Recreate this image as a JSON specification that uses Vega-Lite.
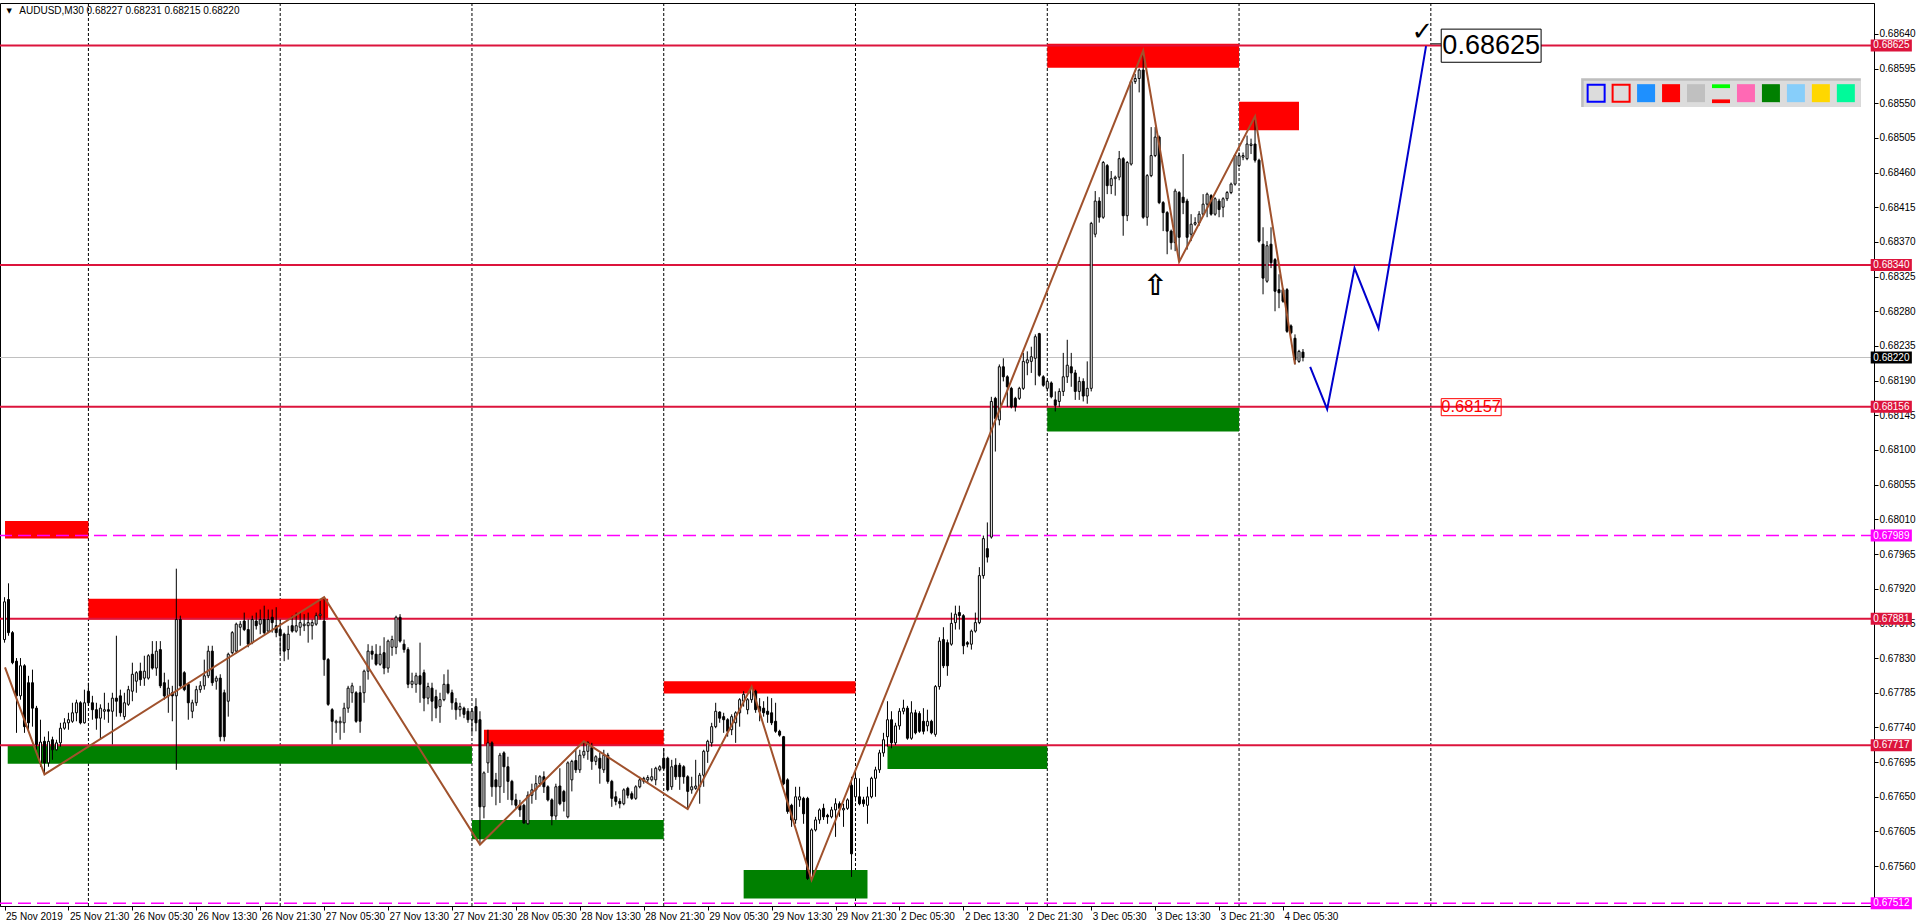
{
"$schema":"https://vega.github.io/schema/vega-lite/v6.json",
"width":1874,"height":903,
"autosize":{"type":"none"},
"padding":{"left":0,"top":3,"right":46,"bottom":18},
"background":"#ffffff",
"config":{"view":{"stroke":"#000000","strokeWidth":1},"font":"Liberation Sans",
 "axis":{"labelFont":"Liberation Sans","labelFontSize":10,"labelColor":"#000000","tickColor":"#000000","domainColor":"#000000","grid":false,"labelOverlap":false,"labelBound":false,"labelFlush":false}},
"resolve":{"scale":{"color":"independent"}},
"datasets":{
"days":[{"i":21},{"i":69},{"i":117},{"i":165},{"i":213},{"i":261},{"i":309},{"i":357}],
"zones":[
{"i0":0.125,"i1":21,"lo":0.67985,"hi":0.68008,"zone":"supply"},
{"i0":21,"i1":81,"lo":0.67880,"hi":0.67907,"zone":"supply"},
{"i0":0.8,"i1":117,"lo":0.67693,"hi":0.67716,"zone":"demand"},
{"i0":120,"i1":165,"lo":0.67716,"hi":0.67737,"zone":"supply"},
{"i0":117,"i1":165,"lo":0.67595,"hi":0.67620,"zone":"demand"},
{"i0":165,"i1":213,"lo":0.67784,"hi":0.67800,"zone":"supply"},
{"i0":185,"i1":216,"lo":0.67518,"hi":0.67555,"zone":"demand"},
{"i0":221,"i1":261,"lo":0.67686,"hi":0.67717,"zone":"demand"},
{"i0":261,"i1":309,"lo":0.68124,"hi":0.68155,"zone":"demand"},
{"i0":261,"i1":309,"lo":0.68596,"hi":0.68627,"zone":"supply"},
{"i0":309,"i1":324,"lo":0.68515,"hi":0.68552,"zone":"supply"}],
"levels":[
{"p":0.68625,"kind":"level"},{"p":0.68340,"kind":"level"},{"p":0.68220,"kind":"bid"},{"p":0.68156,"kind":"level"},
{"p":0.67989,"kind":"pivot"},{"p":0.67881,"kind":"level"},{"p":0.67717,"kind":"level"},{"p":0.67512,"kind":"pivot"}],
"zigzag":[{"i":0.125,"p":0.67818},{"i":10,"p":0.67679},{"i":80,"p":0.67909},{"i":119,"p":0.67588},{"i":145,"p":0.67722},{"i":171,"p":0.67634},{"i":187,"p":0.67793},{"i":202,"p":0.67542},{"i":285,"p":0.68618},{"i":294,"p":0.68344},{"i":313,"p":0.68533},{"i":323,"p":0.68211}],
"projection":[{"i":326.8,"p":0.68208},{"i":331.05,"p":0.68153},{"i":337.9,"p":0.68336},{"i":343.9,"p":0.68258},{"i":355.8,"p":0.68624}],
"swatches":[{"i":410.875,"sw":"dodgerblue"},{"i":417.125,"sw":"red"},{"i":423.375,"sw":"silver"},{"i":435.875,"sw":"hotpink"},{"i":442.125,"sw":"green"},{"i":448.375,"sw":"lightskyblue"},{"i":454.625,"sw":"gold"},{"i":460.875,"sw":"springgreen"}],
"frames":[{"i":398.375,"sw":"blue"},{"i":404.625,"sw":"red"}],
"bars2":[{"i0":427.375,"i1":431.875,"lo":0.685696,"hi":0.685745,"sw":"lime"},{"i0":427.375,"i1":431.875,"lo":0.685501,"hi":0.685549,"sw":"red"}],
"candles":[
{"i":0,"o":0.67854,"h":0.67909,"l":0.67850,"c":0.67903},
{"i":1,"o":0.67906,"h":0.67927,"l":0.67859,"c":0.67863},
{"i":2,"o":0.67863,"h":0.67865,"l":0.67822,"c":0.67824},
{"i":3,"o":0.67826,"h":0.67830,"l":0.67733,"c":0.67781},
{"i":4,"o":0.67781,"h":0.67830,"l":0.67776,"c":0.67820},
{"i":5,"o":0.67820,"h":0.67822,"l":0.67733,"c":0.67741},
{"i":6,"o":0.67798,"h":0.67807,"l":0.67737,"c":0.67746},
{"i":7,"o":0.67798,"h":0.67815,"l":0.67741,"c":0.67765},
{"i":8,"o":0.67765,"h":0.67768,"l":0.67711,"c":0.67718},
{"i":9,"o":0.67694,"h":0.67750,"l":0.67689,"c":0.67721},
{"i":10,"o":0.67722,"h":0.67728,"l":0.67679,"c":0.67694},
{"i":11,"o":0.67694,"h":0.67735,"l":0.67689,"c":0.67722},
{"i":12,"o":0.67724,"h":0.67728,"l":0.67698,"c":0.67711},
{"i":13,"o":0.67711,"h":0.67724,"l":0.67710,"c":0.67720},
{"i":14,"o":0.67720,"h":0.67746,"l":0.67715,"c":0.67739},
{"i":15,"o":0.67739,"h":0.67752,"l":0.67737,"c":0.67746},
{"i":16,"o":0.67746,"h":0.67759,"l":0.67737,"c":0.67750},
{"i":17,"o":0.67748,"h":0.67772,"l":0.67746,"c":0.67759},
{"i":18,"o":0.67759,"h":0.67776,"l":0.67748,"c":0.67772},
{"i":19,"o":0.67772,"h":0.67774,"l":0.67744,"c":0.67746},
{"i":20,"o":0.67746,"h":0.67789,"l":0.67745,"c":0.67772},
{"i":21,"o":0.67787,"h":0.67798,"l":0.67768,"c":0.67772},
{"i":22,"o":0.67772,"h":0.67781,"l":0.67750,"c":0.67763},
{"i":23,"o":0.67763,"h":0.67772,"l":0.67737,"c":0.67752},
{"i":24,"o":0.67752,"h":0.67770,"l":0.67724,"c":0.67765},
{"i":25,"o":0.67761,"h":0.67785,"l":0.67750,"c":0.67763},
{"i":26,"o":0.67763,"h":0.67772,"l":0.67746,"c":0.67761},
{"i":27,"o":0.67761,"h":0.67785,"l":0.67718,"c":0.67778},
{"i":28,"o":0.67778,"h":0.67859,"l":0.67754,"c":0.67774},
{"i":29,"o":0.67781,"h":0.67789,"l":0.67754,"c":0.67759},
{"i":30,"o":0.67754,"h":0.67785,"l":0.67750,"c":0.67772},
{"i":31,"o":0.67770,"h":0.67794,"l":0.67768,"c":0.67789},
{"i":32,"o":0.67787,"h":0.67824,"l":0.67774,"c":0.67809},
{"i":33,"o":0.67800,"h":0.67813,"l":0.67785,"c":0.67811},
{"i":34,"o":0.67813,"h":0.67824,"l":0.67794,"c":0.67802},
{"i":35,"o":0.67804,"h":0.67833,"l":0.67794,"c":0.67813},
{"i":36,"o":0.67804,"h":0.67835,"l":0.67802,"c":0.67833},
{"i":37,"o":0.67835,"h":0.67852,"l":0.67815,"c":0.67817},
{"i":38,"o":0.67817,"h":0.67852,"l":0.67807,"c":0.67839},
{"i":39,"o":0.67841,"h":0.67852,"l":0.67791,"c":0.67794},
{"i":40,"o":0.67798,"h":0.67811,"l":0.67776,"c":0.67781},
{"i":41,"o":0.67781,"h":0.67802,"l":0.67759,"c":0.67791},
{"i":42,"o":0.67785,"h":0.67794,"l":0.67748,"c":0.67781},
{"i":43,"o":0.67781,"h":0.67946,"l":0.67685,"c":0.67880},
{"i":44,"o":0.67880,"h":0.67885,"l":0.67791,"c":0.67794},
{"i":45,"o":0.67811,"h":0.67813,"l":0.67787,"c":0.67789},
{"i":46,"o":0.67796,"h":0.67798,"l":0.67750,"c":0.67772},
{"i":47,"o":0.67761,"h":0.67776,"l":0.67752,"c":0.67772},
{"i":48,"o":0.67772,"h":0.67794,"l":0.67768,"c":0.67789},
{"i":49,"o":0.67789,"h":0.67800,"l":0.67785,"c":0.67794},
{"i":50,"o":0.67794,"h":0.67828,"l":0.67789,"c":0.67807},
{"i":51,"o":0.67807,"h":0.67846,"l":0.67804,"c":0.67839},
{"i":52,"o":0.67839,"h":0.67846,"l":0.67794,"c":0.67798},
{"i":53,"o":0.67800,"h":0.67807,"l":0.67789,"c":0.67804},
{"i":54,"o":0.67804,"h":0.67809,"l":0.67722,"c":0.67728},
{"i":55,"o":0.67785,"h":0.67789,"l":0.67722,"c":0.67728},
{"i":56,"o":0.67774,"h":0.67837,"l":0.67754,"c":0.67835},
{"i":57,"o":0.67837,"h":0.67865,"l":0.67835,"c":0.67863},
{"i":58,"o":0.67839,"h":0.67876,"l":0.67837,"c":0.67874},
{"i":59,"o":0.67870,"h":0.67878,"l":0.67846,"c":0.67874},
{"i":60,"o":0.67878,"h":0.67889,"l":0.67865,"c":0.67867},
{"i":61,"o":0.67867,"h":0.67880,"l":0.67844,"c":0.67848},
{"i":62,"o":0.67850,"h":0.67885,"l":0.67848,"c":0.67880},
{"i":63,"o":0.67878,"h":0.67889,"l":0.67867,"c":0.67872},
{"i":64,"o":0.67874,"h":0.67893,"l":0.67861,"c":0.67880},
{"i":65,"o":0.67880,"h":0.67898,"l":0.67861,"c":0.67863},
{"i":66,"o":0.67865,"h":0.67893,"l":0.67863,"c":0.67880},
{"i":67,"o":0.67883,"h":0.67893,"l":0.67863,"c":0.67876},
{"i":68,"o":0.67872,"h":0.67896,"l":0.67857,"c":0.67863},
{"i":69,"o":0.67867,"h":0.67880,"l":0.67835,"c":0.67859},
{"i":70,"o":0.67861,"h":0.67863,"l":0.67826,"c":0.67839},
{"i":71,"o":0.67841,"h":0.67872,"l":0.67828,"c":0.67861},
{"i":72,"o":0.67872,"h":0.67885,"l":0.67863,"c":0.67865},
{"i":73,"o":0.67865,"h":0.67889,"l":0.67863,"c":0.67872},
{"i":74,"o":0.67870,"h":0.67889,"l":0.67859,"c":0.67876},
{"i":75,"o":0.67872,"h":0.67887,"l":0.67865,"c":0.67874},
{"i":76,"o":0.67872,"h":0.67889,"l":0.67850,"c":0.67876},
{"i":77,"o":0.67872,"h":0.67880,"l":0.67854,"c":0.67876},
{"i":78,"o":0.67874,"h":0.67889,"l":0.67872,"c":0.67885},
{"i":79,"o":0.67885,"h":0.67904,"l":0.67880,"c":0.67887},
{"i":80,"o":0.67878,"h":0.67909,"l":0.67807,"c":0.67828},
{"i":81,"o":0.67828,"h":0.67830,"l":0.67768,"c":0.67770},
{"i":82,"o":0.67763,"h":0.67765,"l":0.67718,"c":0.67748},
{"i":83,"o":0.67746,"h":0.67750,"l":0.67733,"c":0.67748},
{"i":84,"o":0.67746,"h":0.67754,"l":0.67724,"c":0.67748},
{"i":85,"o":0.67746,"h":0.67772,"l":0.67733,"c":0.67765},
{"i":86,"o":0.67765,"h":0.67794,"l":0.67759,"c":0.67791},
{"i":87,"o":0.67785,"h":0.67798,"l":0.67772,"c":0.67794},
{"i":88,"o":0.67785,"h":0.67787,"l":0.67746,"c":0.67748},
{"i":89,"o":0.67785,"h":0.67794,"l":0.67733,"c":0.67748},
{"i":90,"o":0.67785,"h":0.67815,"l":0.67772,"c":0.67813},
{"i":91,"o":0.67813,"h":0.67848,"l":0.67802,"c":0.67839},
{"i":92,"o":0.67839,"h":0.67846,"l":0.67828,"c":0.67835},
{"i":93,"o":0.67835,"h":0.67848,"l":0.67820,"c":0.67822},
{"i":94,"o":0.67822,"h":0.67846,"l":0.67820,"c":0.67835},
{"i":95,"o":0.67837,"h":0.67857,"l":0.67809,"c":0.67817},
{"i":96,"o":0.67817,"h":0.67854,"l":0.67811,"c":0.67852},
{"i":97,"o":0.67844,"h":0.67859,"l":0.67833,"c":0.67854},
{"i":98,"o":0.67844,"h":0.67885,"l":0.67835,"c":0.67883},
{"i":99,"o":0.67883,"h":0.67887,"l":0.67850,"c":0.67852},
{"i":100,"o":0.67848,"h":0.67854,"l":0.67837,"c":0.67841},
{"i":101,"o":0.67841,"h":0.67844,"l":0.67791,"c":0.67796},
{"i":102,"o":0.67796,"h":0.67811,"l":0.67791,"c":0.67800},
{"i":103,"o":0.67796,"h":0.67811,"l":0.67785,"c":0.67807},
{"i":104,"o":0.67807,"h":0.67850,"l":0.67772,"c":0.67796},
{"i":105,"o":0.67811,"h":0.67815,"l":0.67761,"c":0.67778},
{"i":106,"o":0.67778,"h":0.67798,"l":0.67770,"c":0.67793},
{"i":107,"o":0.67791,"h":0.67798,"l":0.67748,"c":0.67774},
{"i":108,"o":0.67780,"h":0.67789,"l":0.67752,"c":0.67765},
{"i":109,"o":0.67767,"h":0.67785,"l":0.67746,"c":0.67776},
{"i":110,"o":0.67776,"h":0.67809,"l":0.67774,"c":0.67796},
{"i":111,"o":0.67796,"h":0.67815,"l":0.67783,"c":0.67785},
{"i":112,"o":0.67785,"h":0.67789,"l":0.67763,"c":0.67772},
{"i":113,"o":0.67772,"h":0.67778,"l":0.67750,"c":0.67763},
{"i":114,"o":0.67763,"h":0.67772,"l":0.67754,"c":0.67767},
{"i":115,"o":0.67765,"h":0.67767,"l":0.67752,"c":0.67757},
{"i":116,"o":0.67761,"h":0.67765,"l":0.67746,"c":0.67750},
{"i":117,"o":0.67750,"h":0.67765,"l":0.67733,"c":0.67761},
{"i":118,"o":0.67767,"h":0.67778,"l":0.67735,"c":0.67746},
{"i":119,"o":0.67750,"h":0.67761,"l":0.67588,"c":0.67637},
{"i":120,"o":0.67637,"h":0.67683,"l":0.67622,"c":0.67681},
{"i":121,"o":0.67694,"h":0.67737,"l":0.67681,"c":0.67720},
{"i":122,"o":0.67720,"h":0.67722,"l":0.67650,"c":0.67663},
{"i":123,"o":0.67672,"h":0.67681,"l":0.67639,"c":0.67663},
{"i":124,"o":0.67663,"h":0.67707,"l":0.67642,"c":0.67704},
{"i":125,"o":0.67707,"h":0.67709,"l":0.67655,"c":0.67689},
{"i":126,"o":0.67689,"h":0.67702,"l":0.67646,"c":0.67670},
{"i":127,"o":0.67670,"h":0.67672,"l":0.67639,"c":0.67646},
{"i":128,"o":0.67646,"h":0.67654,"l":0.67635,"c":0.67639},
{"i":129,"o":0.67639,"h":0.67646,"l":0.67624,"c":0.67633},
{"i":130,"o":0.67639,"h":0.67641,"l":0.67615,"c":0.67616},
{"i":131,"o":0.67615,"h":0.67657,"l":0.67614,"c":0.67652},
{"i":132,"o":0.67652,"h":0.67667,"l":0.67641,"c":0.67659},
{"i":133,"o":0.67659,"h":0.67678,"l":0.67646,"c":0.67667},
{"i":134,"o":0.67667,"h":0.67678,"l":0.67663,"c":0.67676},
{"i":135,"o":0.67676,"h":0.67683,"l":0.67655,"c":0.67663},
{"i":136,"o":0.67663,"h":0.67665,"l":0.67644,"c":0.67646},
{"i":137,"o":0.67646,"h":0.67648,"l":0.67613,"c":0.67625},
{"i":138,"o":0.67625,"h":0.67667,"l":0.67620,"c":0.67663},
{"i":139,"o":0.67664,"h":0.67687,"l":0.67639,"c":0.67641},
{"i":140,"o":0.67657,"h":0.67659,"l":0.67631,"c":0.67644},
{"i":141,"o":0.67624,"h":0.67696,"l":0.67622,"c":0.67694},
{"i":142,"o":0.67672,"h":0.67698,"l":0.67657,"c":0.67696},
{"i":143,"o":0.67697,"h":0.67711,"l":0.67681,"c":0.67685},
{"i":144,"o":0.67685,"h":0.67711,"l":0.67681,"c":0.67704},
{"i":145,"o":0.67704,"h":0.67722,"l":0.67700,"c":0.67709},
{"i":146,"o":0.67709,"h":0.67722,"l":0.67698,"c":0.67720},
{"i":147,"o":0.67714,"h":0.67720,"l":0.67685,"c":0.67696},
{"i":148,"o":0.67696,"h":0.67704,"l":0.67691,"c":0.67702},
{"i":149,"o":0.67700,"h":0.67707,"l":0.67667,"c":0.67687},
{"i":150,"o":0.67685,"h":0.67711,"l":0.67681,"c":0.67704},
{"i":151,"o":0.67704,"h":0.67707,"l":0.67667,"c":0.67670},
{"i":152,"o":0.67670,"h":0.67672,"l":0.67637,"c":0.67648},
{"i":153,"o":0.67650,"h":0.67657,"l":0.67639,"c":0.67644},
{"i":154,"o":0.67644,"h":0.67648,"l":0.67635,"c":0.67641},
{"i":155,"o":0.67641,"h":0.67661,"l":0.67639,"c":0.67659},
{"i":156,"o":0.67661,"h":0.67663,"l":0.67648,"c":0.67652},
{"i":157,"o":0.67654,"h":0.67657,"l":0.67646,"c":0.67648},
{"i":158,"o":0.67648,"h":0.67665,"l":0.67646,"c":0.67663},
{"i":159,"o":0.67663,"h":0.67676,"l":0.67661,"c":0.67672},
{"i":160,"o":0.67670,"h":0.67676,"l":0.67667,"c":0.67674},
{"i":161,"o":0.67672,"h":0.67678,"l":0.67667,"c":0.67675},
{"i":162,"o":0.67672,"h":0.67687,"l":0.67670,"c":0.67676},
{"i":163,"o":0.67672,"h":0.67689,"l":0.67665,"c":0.67687},
{"i":164,"o":0.67685,"h":0.67691,"l":0.67683,"c":0.67689},
{"i":165,"o":0.67700,"h":0.67713,"l":0.67685,"c":0.67687},
{"i":166,"o":0.67700,"h":0.67702,"l":0.67657,"c":0.67659},
{"i":167,"o":0.67663,"h":0.67698,"l":0.67659,"c":0.67689},
{"i":168,"o":0.67691,"h":0.67700,"l":0.67672,"c":0.67676},
{"i":169,"o":0.67691,"h":0.67694,"l":0.67659,"c":0.67676},
{"i":170,"o":0.67689,"h":0.67691,"l":0.67667,"c":0.67676},
{"i":171,"o":0.67676,"h":0.67678,"l":0.67634,"c":0.67657},
{"i":172,"o":0.67659,"h":0.67676,"l":0.67654,"c":0.67663},
{"i":173,"o":0.67661,"h":0.67698,"l":0.67659,"c":0.67664},
{"i":174,"o":0.67663,"h":0.67681,"l":0.67641,"c":0.67678},
{"i":175,"o":0.67678,"h":0.67711,"l":0.67663,"c":0.67709},
{"i":176,"o":0.67709,"h":0.67724,"l":0.67694,"c":0.67722},
{"i":177,"o":0.67720,"h":0.67746,"l":0.67715,"c":0.67741},
{"i":178,"o":0.67741,"h":0.67772,"l":0.67739,"c":0.67761},
{"i":179,"o":0.67760,"h":0.67761,"l":0.67746,"c":0.67752},
{"i":180,"o":0.67754,"h":0.67759,"l":0.67733,"c":0.67750},
{"i":181,"o":0.67750,"h":0.67752,"l":0.67728,"c":0.67735},
{"i":182,"o":0.67737,"h":0.67757,"l":0.67730,"c":0.67754},
{"i":183,"o":0.67746,"h":0.67761,"l":0.67720,"c":0.67759},
{"i":184,"o":0.67759,"h":0.67778,"l":0.67741,"c":0.67776},
{"i":185,"o":0.67774,"h":0.67787,"l":0.67767,"c":0.67783},
{"i":186,"o":0.67763,"h":0.67778,"l":0.67757,"c":0.67776},
{"i":187,"o":0.67776,"h":0.67793,"l":0.67772,"c":0.67791},
{"i":188,"o":0.67787,"h":0.67789,"l":0.67759,"c":0.67763},
{"i":189,"o":0.67767,"h":0.67778,"l":0.67748,"c":0.67761},
{"i":190,"o":0.67765,"h":0.67774,"l":0.67754,"c":0.67759},
{"i":191,"o":0.67761,"h":0.67780,"l":0.67746,"c":0.67757},
{"i":192,"o":0.67759,"h":0.67778,"l":0.67743,"c":0.67746},
{"i":193,"o":0.67748,"h":0.67772,"l":0.67733,"c":0.67735},
{"i":194,"o":0.67735,"h":0.67737,"l":0.67728,"c":0.67730},
{"i":195,"o":0.67728,"h":0.67729,"l":0.67665,"c":0.67667},
{"i":196,"o":0.67672,"h":0.67674,"l":0.67628,"c":0.67631},
{"i":197,"o":0.67639,"h":0.67641,"l":0.67611,"c":0.67620},
{"i":198,"o":0.67620,"h":0.67663,"l":0.67615,"c":0.67650},
{"i":199,"o":0.67646,"h":0.67663,"l":0.67637,"c":0.67650},
{"i":200,"o":0.67648,"h":0.67650,"l":0.67615,"c":0.67628},
{"i":201,"o":0.67648,"h":0.67650,"l":0.67542,"c":0.67544},
{"i":202,"o":0.67544,"h":0.67609,"l":0.67542,"c":0.67607},
{"i":203,"o":0.67607,"h":0.67624,"l":0.67605,"c":0.67620},
{"i":204,"o":0.67620,"h":0.67635,"l":0.67615,"c":0.67633},
{"i":205,"o":0.67635,"h":0.67641,"l":0.67620,"c":0.67624},
{"i":206,"o":0.67626,"h":0.67628,"l":0.67615,"c":0.67624},
{"i":207,"o":0.67624,"h":0.67637,"l":0.67622,"c":0.67633},
{"i":208,"o":0.67633,"h":0.67648,"l":0.67598,"c":0.67641},
{"i":209,"o":0.67641,"h":0.67644,"l":0.67624,"c":0.67635},
{"i":210,"o":0.67633,"h":0.67641,"l":0.67611,"c":0.67635},
{"i":211,"o":0.67635,"h":0.67648,"l":0.67633,"c":0.67646},
{"i":212,"o":0.67665,"h":0.67676,"l":0.67546,"c":0.67576},
{"i":213,"o":0.67650,"h":0.67685,"l":0.67644,"c":0.67674},
{"i":214,"o":0.67650,"h":0.67674,"l":0.67639,"c":0.67641},
{"i":215,"o":0.67646,"h":0.67650,"l":0.67637,"c":0.67641},
{"i":216,"o":0.67639,"h":0.67663,"l":0.67615,"c":0.67650},
{"i":217,"o":0.67650,"h":0.67676,"l":0.67648,"c":0.67674},
{"i":218,"o":0.67674,"h":0.67689,"l":0.67650,"c":0.67685},
{"i":219,"o":0.67685,"h":0.67711,"l":0.67681,"c":0.67707},
{"i":220,"o":0.67707,"h":0.67733,"l":0.67702,"c":0.67724},
{"i":221,"o":0.67728,"h":0.67774,"l":0.67715,"c":0.67750},
{"i":222,"o":0.67750,"h":0.67761,"l":0.67713,"c":0.67720},
{"i":223,"o":0.67720,"h":0.67746,"l":0.67717,"c":0.67742},
{"i":224,"o":0.67742,"h":0.67765,"l":0.67737,"c":0.67761},
{"i":225,"o":0.67761,"h":0.67776,"l":0.67757,"c":0.67765},
{"i":226,"o":0.67765,"h":0.67768,"l":0.67724,"c":0.67726},
{"i":227,"o":0.67726,"h":0.67774,"l":0.67724,"c":0.67759},
{"i":228,"o":0.67759,"h":0.67763,"l":0.67731,"c":0.67733},
{"i":229,"o":0.67758,"h":0.67761,"l":0.67733,"c":0.67735},
{"i":230,"o":0.67748,"h":0.67765,"l":0.67731,"c":0.67735},
{"i":231,"o":0.67742,"h":0.67763,"l":0.67735,"c":0.67748},
{"i":232,"o":0.67748,"h":0.67750,"l":0.67731,"c":0.67733},
{"i":233,"o":0.67731,"h":0.67795,"l":0.67728,"c":0.67793},
{"i":234,"o":0.67793,"h":0.67857,"l":0.67789,"c":0.67852},
{"i":235,"o":0.67854,"h":0.67870,"l":0.67817,"c":0.67820},
{"i":236,"o":0.67850,"h":0.67854,"l":0.67807,"c":0.67820},
{"i":237,"o":0.67848,"h":0.67889,"l":0.67846,"c":0.67875},
{"i":238,"o":0.67876,"h":0.67898,"l":0.67867,"c":0.67887},
{"i":239,"o":0.67889,"h":0.67898,"l":0.67867,"c":0.67885},
{"i":240,"o":0.67885,"h":0.67887,"l":0.67835,"c":0.67846},
{"i":241,"o":0.67850,"h":0.67852,"l":0.67844,"c":0.67848},
{"i":242,"o":0.67848,"h":0.67867,"l":0.67841,"c":0.67865},
{"i":243,"o":0.67865,"h":0.67889,"l":0.67863,"c":0.67876},
{"i":244,"o":0.67876,"h":0.67948,"l":0.67874,"c":0.67937},
{"i":245,"o":0.67937,"h":0.67989,"l":0.67933,"c":0.67985},
{"i":246,"o":0.67972,"h":0.68006,"l":0.67954,"c":0.67961},
{"i":247,"o":0.67987,"h":0.68169,"l":0.67985,"c":0.68163},
{"i":248,"o":0.68167,"h":0.68169,"l":0.68098,"c":0.68141},
{"i":249,"o":0.68139,"h":0.68211,"l":0.68132,"c":0.68208},
{"i":250,"o":0.68208,"h":0.68219,"l":0.68189,"c":0.68195},
{"i":251,"o":0.68195,"h":0.68197,"l":0.68156,"c":0.68182},
{"i":252,"o":0.68180,"h":0.68182,"l":0.68154,"c":0.68156},
{"i":253,"o":0.68167,"h":0.68169,"l":0.68150,"c":0.68156},
{"i":254,"o":0.68167,"h":0.68182,"l":0.68165,"c":0.68180},
{"i":255,"o":0.68180,"h":0.68226,"l":0.68178,"c":0.68215},
{"i":256,"o":0.68213,"h":0.68228,"l":0.68197,"c":0.68217},
{"i":257,"o":0.68215,"h":0.68234,"l":0.68200,"c":0.68221},
{"i":258,"o":0.68219,"h":0.68250,"l":0.68184,"c":0.68247},
{"i":259,"o":0.68251,"h":0.68252,"l":0.68195,"c":0.68197},
{"i":260,"o":0.68195,"h":0.68197,"l":0.68182,"c":0.68184},
{"i":261,"o":0.68180,"h":0.68191,"l":0.68176,"c":0.68189},
{"i":262,"o":0.68187,"h":0.68189,"l":0.68167,"c":0.68169},
{"i":263,"o":0.68165,"h":0.68176,"l":0.68150,"c":0.68158},
{"i":264,"o":0.68163,"h":0.68180,"l":0.68156,"c":0.68176},
{"i":265,"o":0.68176,"h":0.68226,"l":0.68170,"c":0.68195},
{"i":266,"o":0.68195,"h":0.68243,"l":0.68187,"c":0.68210},
{"i":267,"o":0.68208,"h":0.68226,"l":0.68182,"c":0.68200},
{"i":268,"o":0.68200,"h":0.68204,"l":0.68165,"c":0.68176},
{"i":269,"o":0.68176,"h":0.68195,"l":0.68165,"c":0.68189},
{"i":270,"o":0.68189,"h":0.68193,"l":0.68163,"c":0.68170},
{"i":271,"o":0.68170,"h":0.68215,"l":0.68160,"c":0.68180},
{"i":272,"o":0.68180,"h":0.68396,"l":0.68176,"c":0.68394},
{"i":273,"o":0.68380,"h":0.68436,"l":0.68376,"c":0.68423},
{"i":274,"o":0.68423,"h":0.68428,"l":0.68395,"c":0.68402},
{"i":275,"o":0.68402,"h":0.68475,"l":0.68400,"c":0.68473},
{"i":276,"o":0.68469,"h":0.68471,"l":0.68432,"c":0.68443},
{"i":277,"o":0.68443,"h":0.68462,"l":0.68432,"c":0.68452},
{"i":278,"o":0.68452,"h":0.68456,"l":0.68430,"c":0.68454},
{"i":279,"o":0.68454,"h":0.68488,"l":0.68450,"c":0.68478},
{"i":280,"o":0.68478,"h":0.68480,"l":0.68378,"c":0.68404},
{"i":281,"o":0.68404,"h":0.68475,"l":0.68397,"c":0.68473},
{"i":282,"o":0.68471,"h":0.68580,"l":0.68469,"c":0.68578},
{"i":283,"o":0.68578,"h":0.68588,"l":0.68575,"c":0.68582},
{"i":284,"o":0.68582,"h":0.68595,"l":0.68564,"c":0.68593},
{"i":285,"o":0.68593,"h":0.68618,"l":0.68400,"c":0.68402},
{"i":286,"o":0.68402,"h":0.68458,"l":0.68391,"c":0.68456},
{"i":287,"o":0.68456,"h":0.68519,"l":0.68454,"c":0.68482},
{"i":288,"o":0.68482,"h":0.68519,"l":0.68480,"c":0.68506},
{"i":289,"o":0.68506,"h":0.68508,"l":0.68419,"c":0.68421},
{"i":290,"o":0.68421,"h":0.68423,"l":0.68384,"c":0.68408},
{"i":291,"o":0.68408,"h":0.68410,"l":0.68354,"c":0.68384},
{"i":292,"o":0.68384,"h":0.68386,"l":0.68360,"c":0.68369},
{"i":293,"o":0.68369,"h":0.68439,"l":0.68358,"c":0.68436},
{"i":294,"o":0.68434,"h":0.68436,"l":0.68344,"c":0.68376},
{"i":295,"o":0.68428,"h":0.68484,"l":0.68406,"c":0.68421},
{"i":296,"o":0.68423,"h":0.68426,"l":0.68360,"c":0.68376},
{"i":297,"o":0.68380,"h":0.68406,"l":0.68371,"c":0.68393},
{"i":298,"o":0.68393,"h":0.68402,"l":0.68391,"c":0.68395},
{"i":299,"o":0.68395,"h":0.68410,"l":0.68391,"c":0.68406},
{"i":300,"o":0.68406,"h":0.68432,"l":0.68404,"c":0.68419},
{"i":301,"o":0.68419,"h":0.68434,"l":0.68402,"c":0.68432},
{"i":302,"o":0.68430,"h":0.68432,"l":0.68404,"c":0.68406},
{"i":303,"o":0.68406,"h":0.68428,"l":0.68404,"c":0.68426},
{"i":304,"o":0.68423,"h":0.68426,"l":0.68402,"c":0.68412},
{"i":305,"o":0.68415,"h":0.68428,"l":0.68402,"c":0.68426},
{"i":306,"o":0.68426,"h":0.68436,"l":0.68423,"c":0.68434},
{"i":307,"o":0.68434,"h":0.68447,"l":0.68432,"c":0.68445},
{"i":308,"o":0.68445,"h":0.68484,"l":0.68443,"c":0.68482},
{"i":309,"o":0.68469,"h":0.68486,"l":0.68467,"c":0.68482},
{"i":310,"o":0.68480,"h":0.68486,"l":0.68476,"c":0.68482},
{"i":311,"o":0.68478,"h":0.68508,"l":0.68476,"c":0.68497},
{"i":312,"o":0.68495,"h":0.68504,"l":0.68484,"c":0.68497},
{"i":313,"o":0.68497,"h":0.68533,"l":0.68473,"c":0.68476},
{"i":314,"o":0.68476,"h":0.68478,"l":0.68369,"c":0.68371},
{"i":315,"o":0.68367,"h":0.68389,"l":0.68302,"c":0.68323},
{"i":316,"o":0.68319,"h":0.68371,"l":0.68317,"c":0.68365},
{"i":317,"o":0.68367,"h":0.68389,"l":0.68336,"c":0.68343},
{"i":318,"o":0.68347,"h":0.68349,"l":0.68280,"c":0.68306},
{"i":319,"o":0.68308,"h":0.68328,"l":0.68284,"c":0.68304},
{"i":320,"o":0.68308,"h":0.68310,"l":0.68291,"c":0.68293},
{"i":321,"o":0.68308,"h":0.68310,"l":0.68252,"c":0.68254},
{"i":322,"o":0.68261,"h":0.68263,"l":0.68250,"c":0.68252},
{"i":323,"o":0.68245,"h":0.68250,"l":0.68211,"c":0.68217},
{"i":324,"o":0.68215,"h":0.68230,"l":0.68213,"c":0.68228},
{"i":325,"o":0.68227,"h":0.68231,"l":0.68215,"c":0.68220}]
},
"layer":[
{"data":{"name":"days"},"mark":{"type":"rule","strokeDash":[3,2],"color":"#000000","strokeWidth":1},
 "encoding":{"x":{"field":"i","type":"quantitative","title":null,"scale":{"domain":[0.12085,466.671],"nice":false,"zero":false},
  "axis":{"orient":"bottom","values":[0,16,32,48,64,80,96,112,128,144,160,176,192,208,224,240,256,272,288,304,320],"tickCount":100,
   "labelExpr":"['25 Nov 2019','25 Nov 21:30','26 Nov 05:30','26 Nov 13:30','26 Nov 21:30','27 Nov 05:30','27 Nov 13:30','27 Nov 21:30','28 Nov 05:30','28 Nov 13:30','28 Nov 21:30','29 Nov 05:30','29 Nov 13:30','29 Nov 21:30','2 Dec 05:30','2 Dec 13:30','2 Dec 21:30','3 Dec 05:30','3 Dec 13:30','3 Dec 21:30','4 Dec 05:30'][round(datum.value/16)]",
   "labelAlign":"left","labelBaseline":"top","labelPadding":1,"labelOffset":1,"tickSize":4,"labelOverlap":false,"labelBound":false,"labelFlush":false,"title":null}}}},
{"data":{"name":"zones"},"mark":{"type":"rect"},
 "encoding":{"x":{"field":"i0","type":"quantitative","title":null},"x2":{"field":"i1","title":null},
  "y":{"field":"lo","type":"quantitative","title":null,"scale":{"domain":[0.675083,0.6868],"nice":false,"zero":false},
   "axis":{"orient":"right","values":[0.6864,0.68595,0.6855,0.68505,0.6846,0.68415,0.6837,0.68325,0.6828,0.68235,0.6819,0.68145,0.681,0.68055,0.6801,0.67965,0.6792,0.67875,0.6783,0.67785,0.6774,0.67695,0.6765,0.67605,0.6756],"tickCount":100,"format":".5f","tickSize":4,"labelPadding":1,"labelAlign":"left","labelBaseline":"middle","labelOverlap":false,"labelBound":false,"labelFlush":false,"title":null}},
  "y2":{"field":"hi","title":null},
  "color":{"field":"zone","type":"nominal","scale":{"domain":["supply","demand"],"range":["#FF0000","#008000"]},"legend":null}}},
{"data":{"name":"levels"},"transform":[{"filter":"datum.kind == 'level'"}],"mark":{"type":"rule","color":"#DC143C","strokeWidth":2},
 "encoding":{"y":{"field":"p","type":"quantitative","title":null}}},
{"data":{"name":"levels"},"transform":[{"filter":"datum.kind == 'pivot'"}],"mark":{"type":"rule","color":"#FF00FF","strokeWidth":1.5,"strokeDash":[13,6]},
 "encoding":{"y":{"field":"p","type":"quantitative","title":null}}},
{"data":{"name":"levels"},"transform":[{"filter":"datum.kind == 'bid'"}],"mark":{"type":"rule","color":"#C0C0C0","strokeWidth":1},
 "encoding":{"y":{"field":"p","type":"quantitative","title":null}}},
{"data":{"name":"candles"},"mark":{"type":"rule","color":"#000000","strokeWidth":1},
 "encoding":{"x":{"field":"i","type":"quantitative","title":null},"y":{"field":"l","type":"quantitative","title":null},"y2":{"field":"h","title":null}}},
{"data":{"name":"candles"},"mark":{"type":"bar","size":2,"stroke":"#000000","strokeWidth":1},
 "encoding":{"x":{"field":"i","type":"quantitative","title":null},"y":{"field":"o","type":"quantitative","title":null},"y2":{"field":"c","title":null},
  "fill":{"condition":{"test":"datum.c >= datum.o","value":"#ffffff"},"value":"#000000"}}},
{"data":{"name":"zigzag"},"mark":{"type":"line","color":"#A0522D","strokeWidth":2,"clip":true},
 "encoding":{"x":{"field":"i","type":"quantitative","title":null},"y":{"field":"p","type":"quantitative","title":null}}},
{"data":{"name":"projection"},"mark":{"type":"line","color":"#0000CD","strokeWidth":2},
 "encoding":{"x":{"field":"i","type":"quantitative","title":null},"y":{"field":"p","type":"quantitative","title":null}}},
{"data":{"values":[{}]},"mark":{"type":"rect","fill":"#BEBEBE"},
 "encoding":{"x":{"datum":394.625,"type":"quantitative","title":null},"x2":{"datum":464.625,"title":null},"y":{"datum":0.685449,"type":"quantitative","title":null},"y2":{"datum":0.685823,"title":null}}},
{"data":{"values":[{}]},"mark":{"type":"rect","fill":"#DCDCDC"},
 "encoding":{"x":{"datum":395.25,"type":"quantitative","title":null},"x2":{"datum":464.625,"title":null},"y":{"datum":0.685449,"type":"quantitative","title":null},"y2":{"datum":0.68579,"title":null}}},
{"data":{"name":"swatches"},"mark":{"type":"point","shape":"square","filled":true,"opacity":1,"size":324},
 "encoding":{"x":{"field":"i","type":"quantitative","title":null},"y":{"datum":0.68563,"type":"quantitative","title":null},
  "color":{"field":"sw","type":"nominal","legend":null,"scale":{"domain":["dodgerblue","red","silver","hotpink","green","lightskyblue","gold","springgreen"],"range":["#1E90FF","#FF0000","#C0C0C0","#FF69B4","#008000","#87CEFA","#FFD700","#00FA9A"]}}}},
{"data":{"name":"frames"},"mark":{"type":"point","shape":"square","filled":false,"fill":"#DCDCDC","fillOpacity":1,"opacity":1,"strokeWidth":2,"size":289},
 "encoding":{"x":{"field":"i","type":"quantitative","title":null},"y":{"datum":0.68563,"type":"quantitative","title":null},
  "stroke":{"field":"sw","type":"nominal","legend":null,"scale":{"domain":["blue","red"],"range":["#0000FF","#FF0000"]}}}},
{"data":{"name":"bars2"},"mark":{"type":"rect"},
 "encoding":{"x":{"field":"i0","type":"quantitative","title":null},"x2":{"field":"i1","title":null},"y":{"field":"lo","type":"quantitative","title":null},"y2":{"field":"hi","title":null},
  "color":{"field":"sw","type":"nominal","legend":null,"scale":{"domain":["lime","red"],"range":["#00FF00","#FF0000"]}}}},
{"data":{"values":[{}]},"mark":{"type":"text","text":"AUDUSD,M30  0.68227 0.68231 0.68215 0.68220","align":"left","baseline":"middle","fontSize":10,"color":"#000000","font":"Liberation Sans"},
 "encoding":{"x":{"datum":3.7,"type":"quantitative","title":null},"y":{"datum":0.686696,"type":"quantitative","title":null}}},
{"data":{"values":[{}]},"mark":{"type":"text","text":"▼","align":"center","baseline":"middle","fontSize":7,"color":"#000000","font":"DejaVu Sans"},
 "encoding":{"x":{"datum":1.2,"type":"quantitative","title":null},"y":{"datum":0.68669,"type":"quantitative","title":null}}},
{"data":{"values":[{}]},"mark":{"type":"text","text":"✓","align":"center","baseline":"middle","fontSize":26,"color":"#000000","font":"DejaVu Sans"},
 "encoding":{"x":{"datum":354.9,"type":"quantitative","title":null},"y":{"datum":0.686422,"type":"quantitative","title":null}}},
{"data":{"values":[{}]},"mark":{"type":"text","text":"⇧","align":"center","baseline":"middle","fontSize":29,"fontWeight":"bold","color":"#000000","font":"DejaVu Sans"},
 "encoding":{"x":{"datum":288,"type":"quantitative","title":null},"y":{"datum":0.683126,"type":"quantitative","title":null}}},
{"data":{"values":[{}]},"mark":{"type":"rule","color":"#000000","strokeWidth":1},
 "encoding":{"x":{"datum":357.1,"type":"quantitative","title":null},"x2":{"datum":359.6,"title":null},"y":{"datum":0.68627,"type":"quantitative","title":null}}},
{"data":{"values":[{}]},"mark":{"type":"rect","fill":"#ffffff","stroke":"#000000","strokeWidth":1},
 "encoding":{"x":{"datum":359.6,"type":"quantitative","title":null},"x2":{"datum":384.6,"title":null},"y":{"datum":0.686031,"type":"quantitative","title":null},"y2":{"datum":0.686461,"title":null}}},
{"data":{"values":[{}]},"mark":{"type":"text","text":"0.68625","align":"center","baseline":"middle","fontSize":27,"color":"#000000","font":"Liberation Sans"},
 "encoding":{"x":{"datum":372.1,"type":"quantitative","title":null},"y":{"datum":0.68624,"type":"quantitative","title":null}}},
{"data":{"values":[{}]},"mark":{"type":"rect","fillOpacity":0,"fill":"#ffffff","stroke":"#FF0000","strokeWidth":1},
 "encoding":{"x":{"datum":359.6,"type":"quantitative","title":null},"x2":{"datum":374.6,"title":null},"y":{"datum":0.681445,"type":"quantitative","title":null},"y2":{"datum":0.681666,"title":null}}},
{"data":{"values":[{}]},"mark":{"type":"text","text":"0.68157","align":"center","baseline":"middle","fontSize":16.5,"color":"#FF0000","font":"Liberation Sans"},
 "encoding":{"x":{"datum":367.1,"type":"quantitative","title":null},"y":{"datum":0.68156,"type":"quantitative","title":null}}},
{"data":{"name":"levels"},"mark":{"type":"rule","strokeWidth":12,"strokeCap":"butt","clip":false},
 "encoding":{"x":{"datum":467.1,"type":"quantitative","title":null},"x2":{"datum":477.4,"title":null},"y":{"field":"p","type":"quantitative","title":null},
  "color":{"field":"kind","type":"nominal","legend":null,"scale":{"domain":["level","pivot","bid"],"range":["#DC143C","#FF00FF","#000000"]}}}},
{"data":{"name":"levels"},"mark":{"type":"text","align":"left","baseline":"middle","fontSize":10,"color":"#ffffff","font":"Liberation Sans","clip":false},
 "encoding":{"x":{"datum":467.75,"type":"quantitative","title":null},"y":{"field":"p","type":"quantitative","title":null},"text":{"field":"p","type":"quantitative","format":".5f"}}}
]
}
